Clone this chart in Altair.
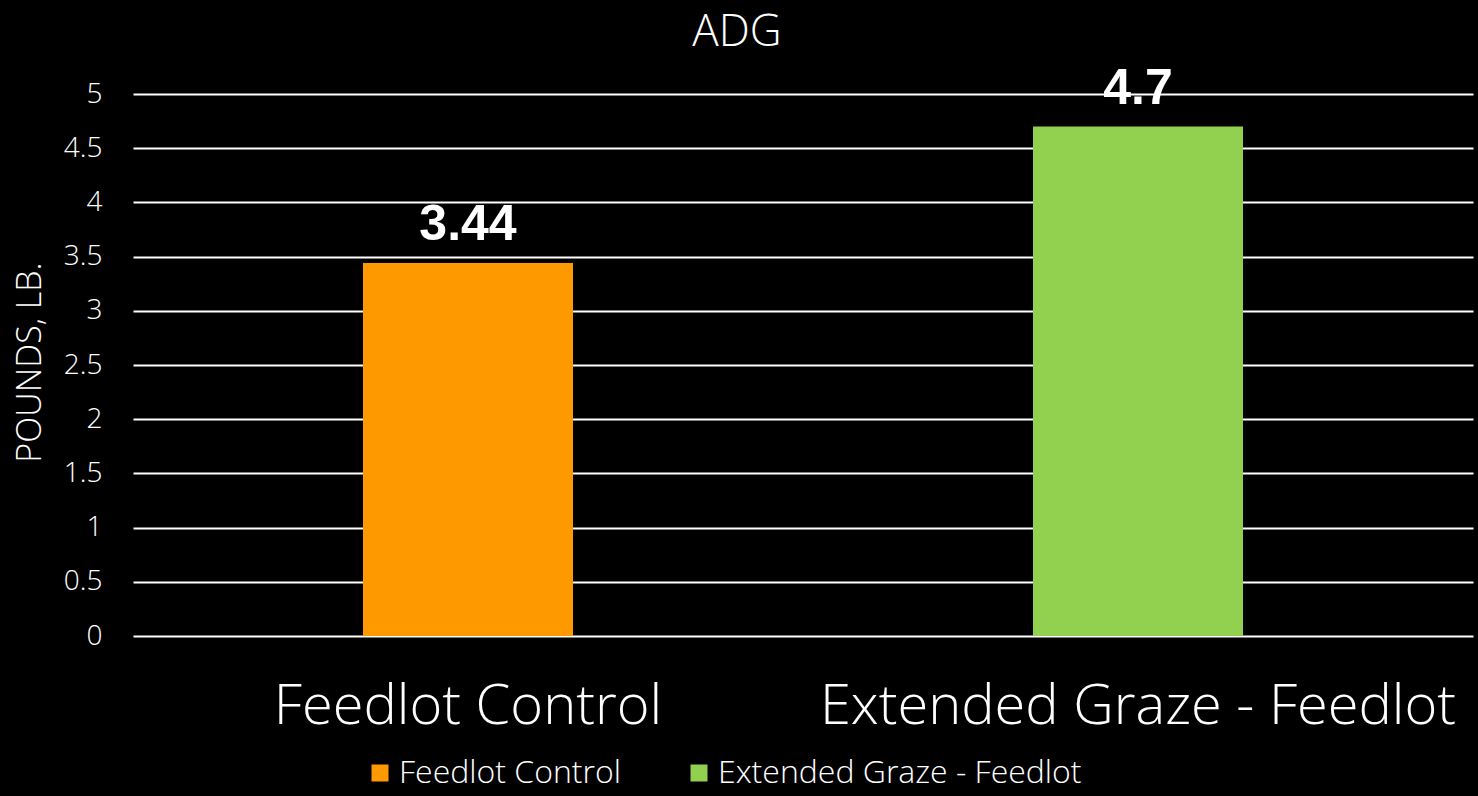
import altair as alt
import pandas as pd

# Average daily gain by feeding program
categories = ["Feedlot Control", "Extended Graze - Feedlot"]
adg_lb = [3.44, 4.7]
value_labels = ["3.44", "4.7"]
bar_colors = ["#FF9900", "#92D050"]
y_ticks = [0, 0.5, 1, 1.5, 2, 2.5, 3, 3.5, 4, 4.5, 5]
chart_title = ["ADG"]

df = pd.DataFrame({"group": categories, "adg": adg_lb, "label": value_labels})
title_df = pd.DataFrame({"t": chart_title})

FONT = "Open Sans"
LIGHT = 300

x_enc = alt.X(
    "group:N",
    sort=categories,
    scale=alt.Scale(paddingInner=0, paddingOuter=0),
    axis=alt.Axis(
        title=None,
        labelAngle=0,
        labelFont=FONT,
        labelFontSize=56,
        labelFontWeight=LIGHT,
        labelColor="white",
        labelBaseline="alphabetic",
        labelPadding=87,
        labelLimit=0,
        domain=False,
        ticks=False,
        tickSize=0,
        grid=False,
    ),
)

y_enc = alt.Y(
    "adg:Q",
    scale=alt.Scale(domain=[0, 5], nice=False),
    axis=alt.Axis(
        values=y_ticks,
        format="~g",
        title="POUNDS, LB.",
        titleFont=FONT,
        titleFontSize=34,
        titleFontWeight=LIGHT,
        titleColor="white",
        titleAngle=-90,
        titleAlign="center",
        titleBaseline="middle",
        titleX=-103,
        titleY=268,
        labelFont=FONT,
        labelFontSize=28,
        labelFontWeight=LIGHT,
        labelColor="white",
        labelPadding=31,
        domain=False,
        ticks=False,
        tickSize=0,
        grid=True,
        gridColor="white",
        gridWidth=2,
        gridOpacity=1,
    ),
)

bars = alt.Chart(df).mark_bar(size=210).encode(
    x=x_enc,
    y=y_enc,
    color=alt.Color(
        "group:N",
        sort=categories,
        scale=alt.Scale(domain=categories, range=bar_colors),
        legend=alt.Legend(
            title=None,
            orient="none",
            legendX=231,
            legendY=663,
            padding=0,
            direction="horizontal",
            symbolType="square",
            symbolSize=289,
            symbolStrokeWidth=0,
            symbolOpacity=1,
            labelFont=FONT,
            labelFontSize=32,
            labelFontWeight=LIGHT,
            labelColor="white",
            labelOffset=3,
            labelLimit=0,
            columnPadding=62,
        ),
    ),
)

labels = alt.Chart(df).mark_text(
    dy=-23,
    baseline="alphabetic",
    font="Liberation Sans",
    fontSize=50,
    fontWeight="bold",
    color="white",
).encode(
    x=alt.X("group:N", sort=categories),
    y=alt.Y("adg:Q"),
    text="label:N",
)

# chart heading, centred over the full canvas rather than the plot area
heading = alt.Chart(title_df).mark_text(
    baseline="alphabetic",
    align="center",
    font=FONT,
    fontSize=44,
    fontWeight=LIGHT,
    color="white",
).encode(
    x=alt.value(604),
    y=alt.value(-48),
    text="t:N",
)

chart = (
    alt.layer(bars, labels, heading)
    .properties(
        width=1340,
        height=542,
        background="black",
        autosize=alt.AutoSizeParams(type="none"),
        padding={"left": 133, "top": 94, "right": 5, "bottom": 160},
    )
    .configure_view(stroke=None)
)

chart.save("out.html", embed_options={"renderer": "svg", "actions": False})
